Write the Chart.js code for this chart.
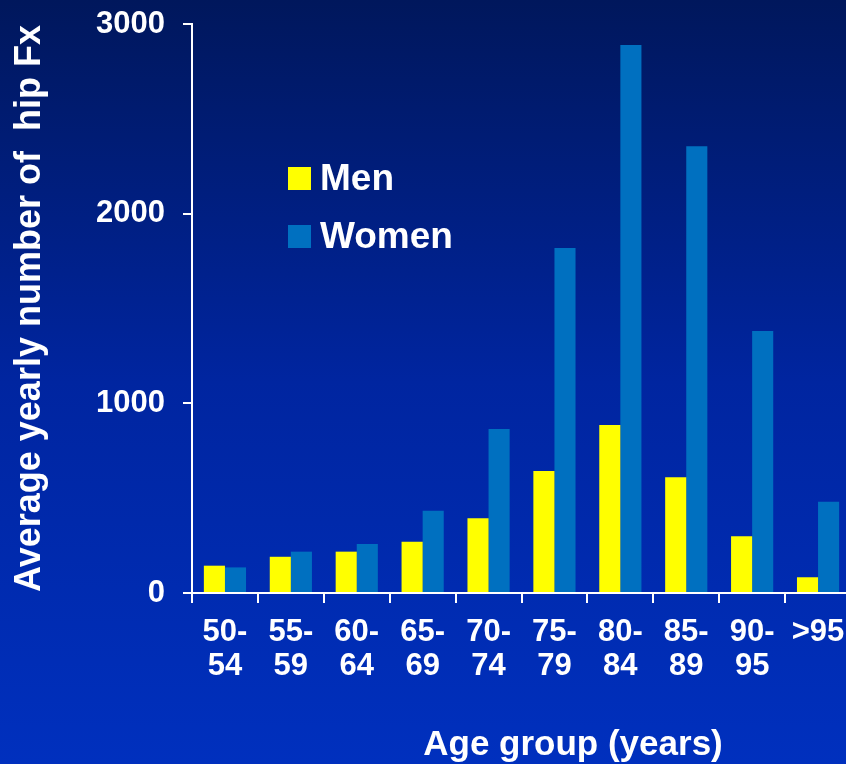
<!DOCTYPE html>
<html>
<head>
<meta charset="utf-8">
<script src="https://cdn.jsdelivr.net/npm/chart.js@4/dist/chart.umd.min.js"></script>
<style>
  html, body { margin: 0; padding: 0; overflow: hidden; background: #0026a0; }
  #hip { display: block; }
</style>
</head>
<body>
<canvas id="hip" width="860" height="764"></canvas>
<script>
// age groups, drawn as two-line tick labels
const ageGroups = [["50-", "54"], ["55-", "59"], ["60-", "64"], ["65-", "69"], ["70-", "74"],
                   ["75-", "79"], ["80-", "84"], ["85-", "89"], ["90-", "95"], [">95"]];
// average yearly number of hip fractures
const menValues = [144, 191, 218, 270, 394, 643, 886, 610, 299, 83];
const womenValues = [135, 218, 258, 434, 865, 1819, 2889, 2356, 1381, 481];
const yTicks = [0, 1000, 2000, 3000];

const FONT = "'Liberation Sans', Arial, sans-serif";

// blue gradient behind everything
const background = {
  id: "background",
  beforeDraw(chart) {
    const { ctx, width, height } = chart;
    const g = ctx.createLinearGradient(0, 0, 0, height);
    g.addColorStop(0, "#00175c");
    g.addColorStop(0.5, "#0025a0");
    g.addColorStop(1, "#0030be");
    ctx.save();
    ctx.fillStyle = g;
    ctx.fillRect(0, 0, width, height);
    ctx.restore();
  }
};

// legend box inside the plot and the x title, which sits right of centre
const extras = {
  id: "extras",
  afterDraw(chart) {
    const ctx = chart.ctx;
    ctx.save();
    ctx.font = "bold 37px " + FONT;
    ctx.textBaseline = "middle";
    ctx.textAlign = "left";
    chart.data.datasets.forEach((ds, i) => {
      const y = 179 + i * 58;
      ctx.fillStyle = ds.backgroundColor;
      ctx.fillRect(288, y - 12, 23, 23);
      ctx.fillStyle = "#ffffff";
      ctx.fillText(ds.label, 320, y + 1);
    });
    ctx.font = "bold 35px " + FONT;
    ctx.textAlign = "center";
    ctx.fillText("Age group (years)", 573, 745);
    ctx.restore();
  }
};

new Chart(document.getElementById("hip"), {
  type: "bar",
  data: {
    labels: ageGroups,
    datasets: [
      { label: "Men", data: menValues, backgroundColor: "#ffff00", borderWidth: 0 },
      { label: "Women", data: womenValues, backgroundColor: "#0070c0", borderWidth: 0 }
    ]
  },
  options: {
    responsive: false,
    animation: false,
    devicePixelRatio: 1,
    layout: { padding: { top: 24, right: 9, left: 0, bottom: 0 } },
    categoryPercentage: 0.64,
    barPercentage: 1.0,
    plugins: {
      legend: { display: false },
      tooltip: { enabled: false }
    },
    scales: {
      x: {
        afterFit(scale) { scale.height = 171; },
        grid: { drawOnChartArea: false, color: "#ffffff", lineWidth: 2, tickLength: 10 },
        border: { color: "#ffffff", width: 2 },
        ticks: {
          color: "#ffffff",
          font: { family: FONT, size: 31, weight: "bold", lineHeight: 1.1 },
          padding: 12,
          maxRotation: 0,
          autoSkip: false
        }
      },
      y: {
        min: 0,
        max: 3000,
        afterFit(scale) {
          scale.width = 192;
          scale.paddingTop = 0;
          scale.paddingBottom = 0;
        },
        afterBuildTicks(scale) { scale.ticks = yTicks.map(v => ({ value: v })); },
        grid: { drawOnChartArea: false, color: "#ffffff", lineWidth: 2, tickLength: 9 },
        border: { color: "#ffffff", width: 2 },
        ticks: {
          color: "#ffffff",
          font: { family: FONT, size: 31, weight: "bold" },
          padding: 18,
          callback: v => String(v)
        },
        title: {
          display: true,
          text: "Average yearly number of  hip Fx",
          color: "#ffffff",
          font: { family: FONT, size: 36, weight: "bold", lineHeight: 1.2 },
          padding: { top: 8, bottom: 0 }
        }
      }
    }
  },
  plugins: [background, extras]
});
</script>
</body>
</html>
